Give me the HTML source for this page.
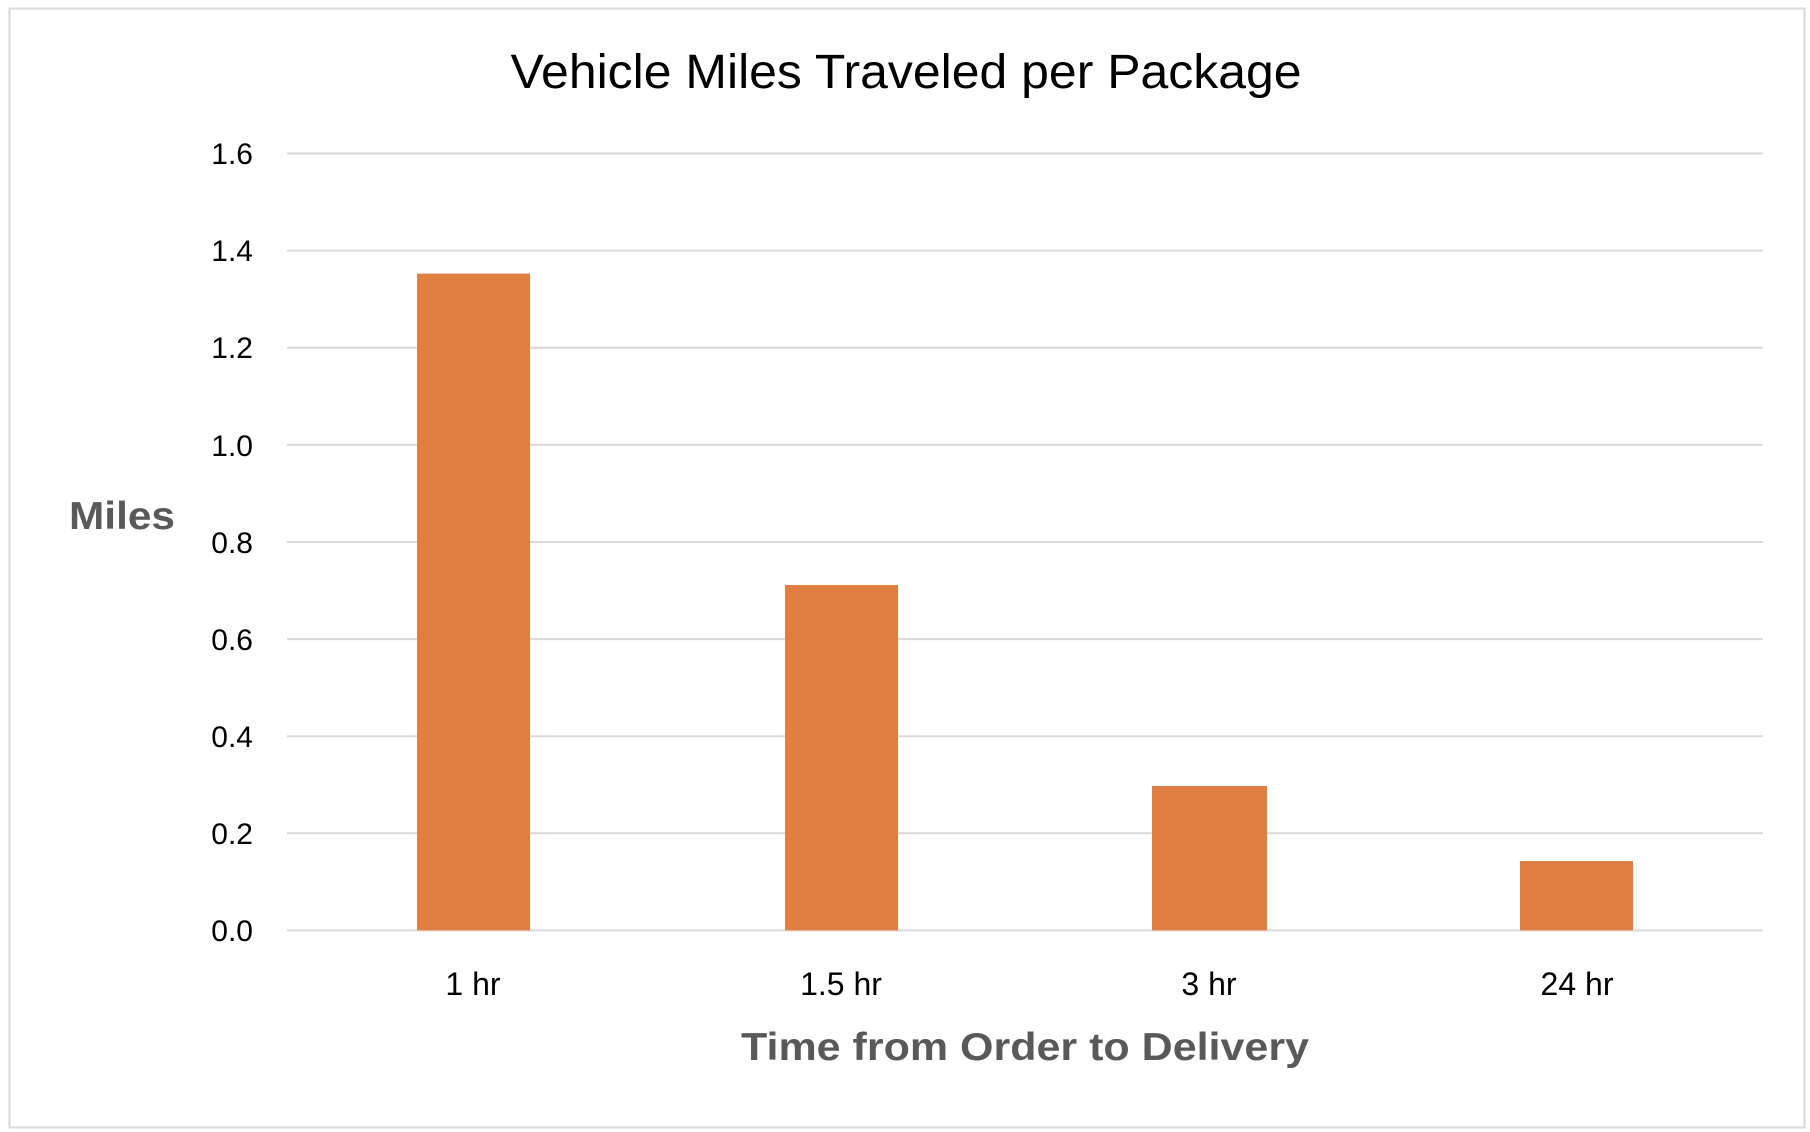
<!DOCTYPE html>
<html><head><meta charset="utf-8"><style>
html,body{margin:0;padding:0;background:#fff;}
svg{display:block;font-family:"Liberation Sans",sans-serif;}
</style></head><body>
<svg width="1810" height="1132" viewBox="0 0 1810 1132" xmlns="http://www.w3.org/2000/svg">
<rect x="0" y="0" width="1810" height="1132" fill="#fff"/>
<rect x="9.5" y="8.5" width="1795" height="1119" fill="#fff" stroke="#d9d9d9" stroke-width="2"/>
<text x="906" y="88" font-size="48" fill="#000" text-anchor="middle" textLength="791" lengthAdjust="spacingAndGlyphs">Vehicle Miles Traveled per Package</text>
<g stroke="#d9d9d9" stroke-width="2">
<line x1="287" x2="1763" y1="153.5" y2="153.5"/>
<line x1="287" x2="1763" y1="250.6" y2="250.6"/>
<line x1="287" x2="1763" y1="347.7" y2="347.7"/>
<line x1="287" x2="1763" y1="444.9" y2="444.9"/>
<line x1="287" x2="1763" y1="542" y2="542"/>
<line x1="287" x2="1763" y1="639.1" y2="639.1"/>
<line x1="287" x2="1763" y1="736.2" y2="736.2"/>
<line x1="287" x2="1763" y1="833.3" y2="833.3"/>
<line x1="287" x2="1763" y1="930.4" y2="930.4"/>
</g>
<g font-size="30" fill="#000" text-anchor="end">
<text x="253" y="164">1.6</text>
<text x="253" y="261">1.4</text>
<text x="253" y="358">1.2</text>
<text x="253" y="456">1.0</text>
<text x="253" y="553">0.8</text>
<text x="253" y="650">0.6</text>
<text x="253" y="747">0.4</text>
<text x="253" y="844">0.2</text>
<text x="253" y="941">0.0</text>
</g>
<g fill="#e07f42">
<rect x="417" y="273.6" width="113" height="656.8"/>
<rect x="785" y="585" width="113" height="345.4"/>
<rect x="1152" y="786" width="115" height="144.4"/>
<rect x="1520" y="861" width="113" height="69.4"/>
</g>
<g font-size="32" fill="#000" text-anchor="middle">
<text x="473" y="995">1 hr</text>
<text x="841" y="995">1.5 hr</text>
<text x="1209" y="995">3 hr</text>
<text x="1577" y="995">24 hr</text>
</g>
<text x="1025" y="1060" font-size="39" font-weight="bold" fill="#595959" text-anchor="middle" textLength="568" lengthAdjust="spacingAndGlyphs">Time from Order to Delivery</text>
<text x="122" y="529" font-size="39" font-weight="bold" fill="#595959" text-anchor="middle" textLength="106" lengthAdjust="spacingAndGlyphs">Miles</text>
</svg>
</body></html>
